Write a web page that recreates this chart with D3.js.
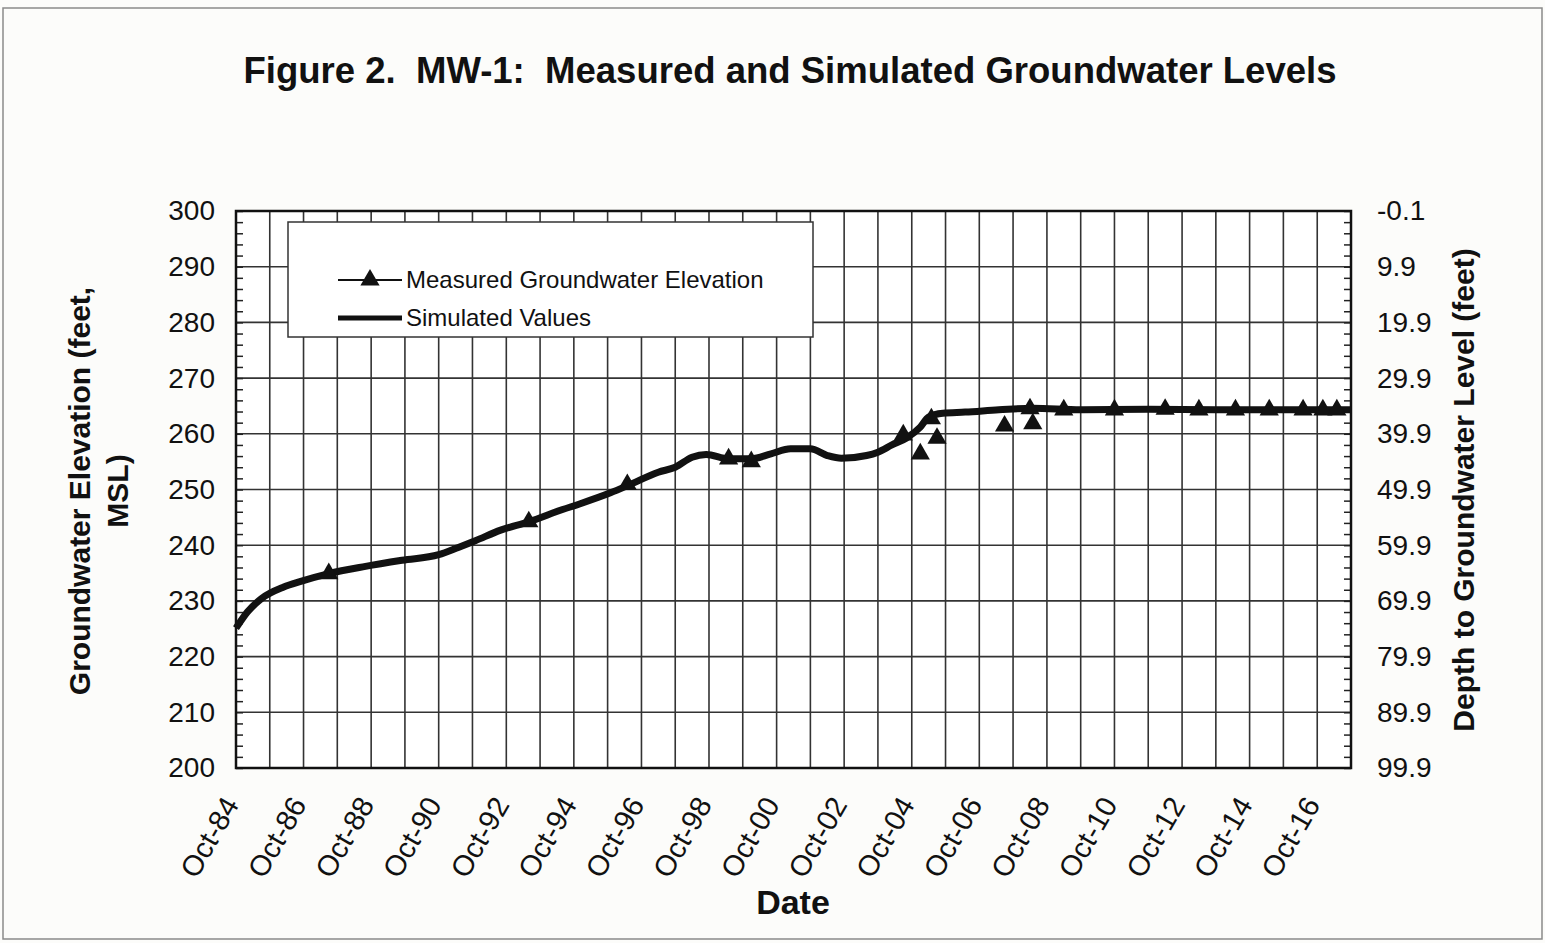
<!DOCTYPE html>
<html>
<head>
<meta charset="utf-8">
<script src="https://cdn.jsdelivr.net/npm/d3@7"></script>
<style>
  body { margin: 0; background: #fcfcfa; }
  text { font-family: "Liberation Sans", Arial, sans-serif; fill: #111; }
</style>
</head>
<body>
<div id="chart"></div>
<script>
// simulated groundwater elevation (feet MSL)
var simDates = ["1984-10","1985-02","1985-07","1986-03","1986-09","1987-07","1988-08","1989-09",
  "1990-10","1991-05","1991-11","1992-08","1993-06","1994-06","1994-12","1995-11","1996-06",
  "1997-04","1997-10","1998-04","1998-09","1999-05","2000-01","2000-08","2001-03","2001-10",
  "2002-04","2002-09","2003-06","2003-10","2004-03","2004-08","2005-01","2005-04","2005-09",
  "2006-05","2007-05","2008-05","2009-10","2011-10","2013-10","2015-10","2017-10"];
var simValues = [225.1,228.0,230.4,232.5,233.5,234.9,236.2,237.3,
  238.3,239.6,240.8,242.7,244.2,246.4,247.4,249.4,250.9,
  253.1,254.0,255.8,256.3,255.5,255.5,256.4,257.3,257.3,
  256.1,255.6,256.1,256.7,258.0,259.2,261.2,263.0,263.7,
  263.9,264.3,264.6,264.3,264.4,264.3,264.3,264.3];

// measured groundwater elevation
var measDates = ["1987-07","1993-06","1996-05","1999-05","2000-01","2004-07","2005-01","2005-05",
  "2005-07","2007-07","2008-05","2008-04","2009-04","2010-10","2012-04","2013-04","2014-05",
  "2015-05","2016-05","2016-12","2017-05"];
var measValues = [234.9,244.2,250.9,255.5,255.0,259.8,256.4,262.7,
  259.2,261.4,261.8,264.5,264.3,264.3,264.4,264.3,264.3,
  264.3,264.3,264.3,264.3];

var tickYears = d3.range(1984, 2018);
var elevTicks = [200,210,220,230,240,250,260,270,280,290,300];
var depthTicks = [99.9,89.9,79.9,69.9,59.9,49.9,39.9,29.9,19.9,9.9,-0.1];

var parse = d3.utcParse("%Y-%m");
var fmt = d3.utcFormat("%b-%y");

var W = 1545, H = 943;
var margin = {left: 236, top: 211};
var width = 1115, height = 557;

var svg = d3.select("#chart").append("svg")
	.attr("width", W)
	.attr("height", H);

svg.append("rect")
	.attr("x", 3).attr("y", 8)
	.attr("width", W - 6).attr("height", H - 12)
	.attr("fill", "#fcfcfa")
	.attr("stroke", "#8a8a8a")
	.attr("stroke-width", 1.5);

var g = svg.append("g")
	.attr("transform", "translate(" + margin.left + "," + margin.top + ")");

var x = d3.scaleUtc()
	.domain([new Date(Date.UTC(1984, 9, 1)), new Date(Date.UTC(2017, 9, 1))])
	.range([0, width]);
var y = d3.scaleLinear().domain([200, 300]).range([height, 0]);
var yDepth = d3.scaleLinear().domain([99.9, -0.1]).range([height, 0]);

var tickDates = tickYears.map(function(yr) { return new Date(Date.UTC(yr, 9, 1)); });

g.append("rect")
	.attr("width", width).attr("height", height)
	.attr("fill", "#ffffff");

// gridlines
g.selectAll(".vgrid")
	.data(tickDates)
	.enter().append("line")
	.attr("class", "vgrid")
	.attr("x1", function(d) { return x(d); })
	.attr("x2", function(d) { return x(d); })
	.attr("y1", 0).attr("y2", height)
	.attr("stroke", "#333").attr("stroke-width", 1.6);

g.selectAll(".hgrid")
	.data(elevTicks)
	.enter().append("line")
	.attr("class", "hgrid")
	.attr("x1", 0).attr("x2", width)
	.attr("y1", function(d) { return y(d); })
	.attr("y2", function(d) { return y(d); })
	.attr("stroke", "#333").attr("stroke-width", 1.6);

// minor ticks inside the frame
g.append("g")
	.call(d3.axisRight(y).tickValues(d3.range(200, 301, 2)).tickSize(7).tickFormat(""))
	.call(function(s) { s.select(".domain").remove(); s.selectAll("line").attr("stroke", "#222").attr("stroke-width", 1.5); });
g.append("g")
	.attr("transform", "translate(" + width + ",0)")
	.call(d3.axisLeft(y).tickValues(d3.range(200, 301, 2)).tickSize(7).tickFormat(""))
	.call(function(s) { s.select(".domain").remove(); s.selectAll("line").attr("stroke", "#222").attr("stroke-width", 1.5); });

// left axis labels
g.append("g")
	.call(d3.axisLeft(y).tickValues(elevTicks).tickSize(0).tickPadding(21))
	.call(function(s) { s.select(".domain").remove(); })
	.selectAll("text")
	.style("font-size", "28px")
	.style("font-family", "Liberation Sans, Arial, sans-serif")
	.attr("fill", "#111");

// right axis labels
g.append("g")
	.attr("transform", "translate(" + width + ",0)")
	.call(d3.axisRight(yDepth).tickValues(depthTicks).tickSize(0).tickPadding(26)
		.tickFormat(function(d) { return d.toFixed(1); }))
	.call(function(s) { s.select(".domain").remove(); })
	.selectAll("text")
	.style("font-size", "28px")
	.style("font-family", "Liberation Sans, Arial, sans-serif")
	.attr("fill", "#111");

// bottom axis labels
var xAxis = g.append("g")
	.attr("transform", "translate(0," + height + ")")
	.call(d3.axisBottom(x).tickValues(tickDates).tickSize(0)
		.tickFormat(function(d, i) { return i % 2 === 0 ? fmt(d) : ""; }));
xAxis.select(".domain").remove();
xAxis.selectAll("text")
	.style("font-size", "29px")
	.style("font-family", "Liberation Sans, Arial, sans-serif")
	.attr("fill", "#111")
	.attr("text-anchor", "end")
	.attr("dy", "0.35em")
	.attr("transform", "translate(-8,30) rotate(-60)");

// frame
g.append("rect")
	.attr("width", width).attr("height", height)
	.attr("fill", "none")
	.attr("stroke", "#111").attr("stroke-width", 2.5);

// simulated line
var simData = simDates.map(function(d, i) { return {date: parse(d), value: simValues[i]}; });
var simLine = d3.line()
	.curve(d3.curveMonotoneX)
	.x(function(d) { return x(d.date); })
	.y(function(d) { return y(d.value); });

g.append("path")
	.datum(simData)
	.attr("d", simLine)
	.attr("fill", "none")
	.attr("stroke", "#111")
	.attr("stroke-width", 7)
	.attr("stroke-linejoin", "round");

// measured points
var measData = measDates.map(function(d, i) { return {date: parse(d), value: measValues[i]}; });
var tri = d3.symbol().type(d3.symbolTriangle).size(160);
g.selectAll(".meas")
	.data(measData)
	.enter().append("path")
	.attr("class", "meas")
	.attr("d", tri)
	.attr("transform", function(d) { return "translate(" + x(d.date) + "," + y(d.value) + ")"; })
	.attr("fill", "#111");

// legend
var leg = svg.append("g").attr("transform", "translate(288,222)");
leg.append("rect")
	.attr("width", 525).attr("height", 115)
	.attr("fill", "#ffffff")
	.attr("stroke", "#333").attr("stroke-width", 1.5);
leg.append("line")
	.attr("x1", 50).attr("x2", 114).attr("y1", 58).attr("y2", 58)
	.attr("stroke", "#111").attr("stroke-width", 2);
leg.append("path")
	.attr("d", tri)
	.attr("transform", "translate(82,58)")
	.attr("fill", "#111");
leg.append("text")
	.attr("x", 118).attr("y", 66)
	.style("font-size", "24px")
	.text("Measured Groundwater Elevation");
leg.append("line")
	.attr("x1", 50).attr("x2", 114).attr("y1", 96).attr("y2", 96)
	.attr("stroke", "#111").attr("stroke-width", 5);
leg.append("text")
	.attr("x", 118).attr("y", 104)
	.style("font-size", "24px")
	.text("Simulated Values");

// titles
svg.append("text")
	.attr("x", 790).attr("y", 83)
	.attr("text-anchor", "middle")
	.attr("textLength", 1093)
	.attr("lengthAdjust", "spacingAndGlyphs")
	.style("font-size", "37px")
	.style("font-weight", "bold")
	.style("white-space", "pre")
	.text("Figure 2.  MW-1:  Measured and Simulated Groundwater Levels");

svg.append("text")
	.attr("transform", "translate(90,491) rotate(-90)")
	.attr("text-anchor", "middle")
	.style("font-size", "30px")
	.style("font-weight", "bold")
	.text("Groundwater Elevation (feet,");
svg.append("text")
	.attr("transform", "translate(128,491) rotate(-90)")
	.attr("text-anchor", "middle")
	.style("font-size", "30px")
	.style("font-weight", "bold")
	.text("MSL)");

svg.append("text")
	.attr("transform", "translate(1474,490) rotate(-90)")
	.attr("text-anchor", "middle")
	.style("font-size", "30px")
	.style("font-weight", "bold")
	.text("Depth to Groundwater Level (feet)");

svg.append("text")
	.attr("x", 793).attr("y", 914)
	.attr("text-anchor", "middle")
	.style("font-size", "34px")
	.style("font-weight", "bold")
	.text("Date");
</script>
</body>
</html>
